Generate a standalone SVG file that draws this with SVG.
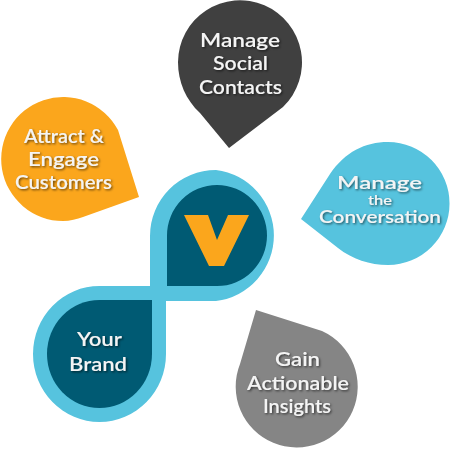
<svg xmlns="http://www.w3.org/2000/svg" width="450" height="450" viewBox="0 0 450 450">
<defs>
<filter id="s" x="-15%" y="-25%" width="130%" height="160%"><feDropShadow dx="1.200" dy="1.200" stdDeviation="0.900" flood-color="#000" flood-opacity="0.600"/></filter>
<filter id="b" x="-5%" y="-5%" width="110%" height="110%"><feGaussianBlur stdDeviation="0.500"/></filter>
</defs>
<style>
text{font-family:Lato,"Liberation Sans",sans-serif;font-weight:600;font-size:19px;fill:#f4f4f4;text-anchor:middle;filter:url(#s)}
text.small{font-size:17px}
text.tiny{font-size:13px}
path{filter:url(#b)}
</style>
<rect width="450" height="450" fill="#fff"/>
<g id="connectors"/>
<g id="infinity">
<path d="M216 170A66 66 0 0 1 216 301H166V354A66.500 68 0 1 1 99.500 286H150V236A66 66 0 0 1 216 170Z" fill="#56c3de"/>
<path d="M167 286V235.500A50 50.500 0 1 1 217 286Z" fill="#065a73"/>
<path d="M152 300V354A52.500 54 0 1 1 99.500 300Z" fill="#065a73"/>
</g>
<g id="v"><path d="M184 215H208L217 240L228 215H249L224 266H209Z" fill="#fba61c"/></g>
<g id="brand"><text x="99.500" y="346" textLength="45" lengthAdjust="spacingAndGlyphs">Your</text><text x="98" y="371" textLength="58" lengthAdjust="spacingAndGlyphs">Brand</text></g>
<g id="social"><path d="M229 148L200 113C186 100 178 82 178 62A62 62 0 1 1 283 107Z" fill="#404040"/><text x="240" y="47" textLength="80" lengthAdjust="spacingAndGlyphs">Manage</text><text x="240.500" y="70" textLength="55" lengthAdjust="spacingAndGlyphs">Social</text><text x="240.500" y="94" textLength="83" lengthAdjust="spacingAndGlyphs">Contacts</text></g>
<g id="attract"><path d="M139 197L83 217C77 219 70 221 63 221A62 62 0 1 1 118 130Z" fill="#fba61c"/><text x="64" y="143" textLength="80" lengthAdjust="spacingAndGlyphs">Attract &amp;</text><text x="63.500" y="166" textLength="71" lengthAdjust="spacingAndGlyphs">Engage</text><text x="63.500" y="189" textLength="97" lengthAdjust="spacingAndGlyphs">Customers</text></g>
<g id="conversation"><path d="M301 219L330 174C345 152 365 142 388 142A61.500 61.500 0 1 1 388 265C370 265 352 259 338 248Z" fill="#56c3de"/><text class="small" x="379.500" y="189" textLength="85" lengthAdjust="spacingAndGlyphs">Manage</text><text class="tiny" x="380" y="205" textLength="24" lengthAdjust="spacingAndGlyphs">the</text><text class="small" x="380" y="223" textLength="122" lengthAdjust="spacingAndGlyphs">Conversation</text></g>
<g id="insights"><path d="M256 310L322 331A61 61 0 1 1 240 364Z" fill="#858585"/><text x="297.500" y="366" textLength="45" lengthAdjust="spacingAndGlyphs">Gain</text><text x="298" y="390" textLength="102" lengthAdjust="spacingAndGlyphs">Actionable</text><text x="297" y="413" textLength="68" lengthAdjust="spacingAndGlyphs">Insights</text></g>
</svg>
